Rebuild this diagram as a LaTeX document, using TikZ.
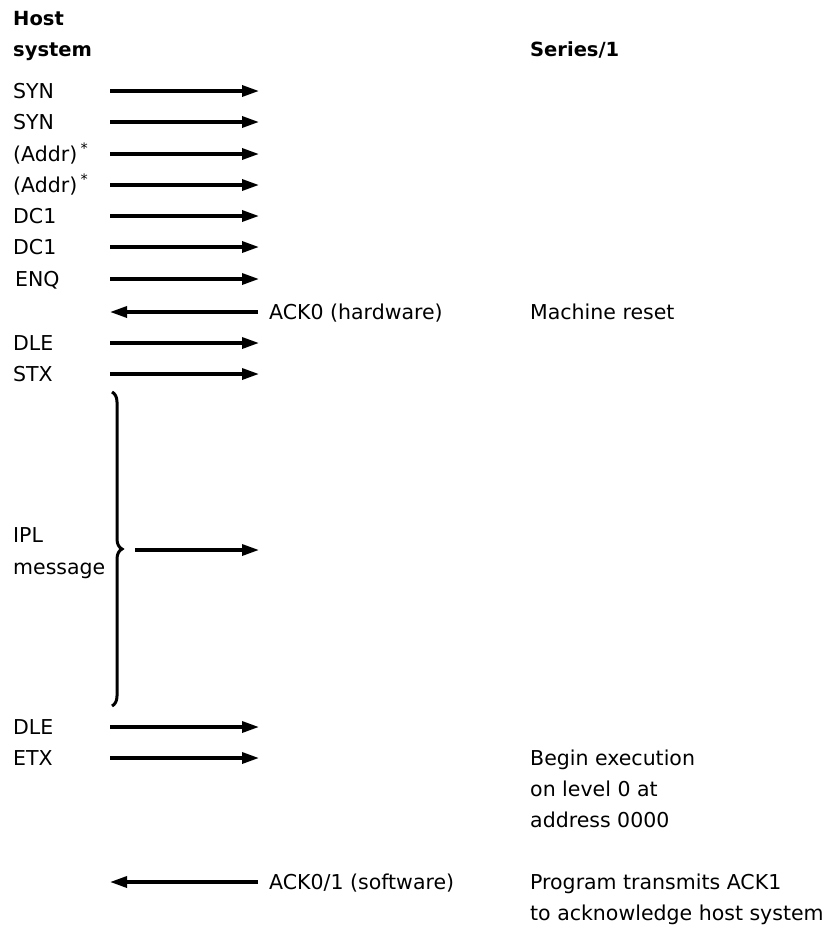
\documentclass[tikz,border=0pt]{standalone}
\usepackage{fontspec}
\setmainfont{DejaVu Sans}
\usepackage{tikz}
\usetikzlibrary{arrows.meta,decorations.pathreplacing}
\tikzset{row label/.style={anchor=base west,inner sep=0pt,yshift=-7.5pt,font=\fontsize{20.5}{31}\selectfont},head label/.style={anchor=base west,inner sep=0pt,font=\fontsize{19.5}{30}\selectfont\bfseries},link/.style={-{Triangle[length=17pt,width=11pt]},line width=3.3pt},ipl brace/.style={decorate,decoration={brace,amplitude=10pt},line width=3pt}}

\begin{document}
\begin{tikzpicture}[x=1pt,y=-1pt]
 \useasboundingbox (0,0) rectangle (832,932);
 \node[head label] (host) at (13,25) {Host};
 \node[head label] (hostsys) at (13,56) {system};
 \node[head label] (series) at (530,56) {Series/1};

 % host side, one name per row
 \node[row label] (syn1) at (13,91) {SYN};
 \node[row label] (syn2) at (13,122) {SYN};
 \node[row label] (addr1) at (13,154) {(Addr)\,\textsuperscript{*}};
 \node[row label] (addr2) at (13,185) {(Addr)\,\textsuperscript{*}};
 \node[row label] (dc1a) at (13,216) {DC1};
 \node[row label] (dc1b) at (13,247) {DC1};
 \node[row label] (enq) at (15,279) {ENQ};
 \node[row label] (dle1) at (13,343) {DLE};
 \node[row label] (stx) at (13,374) {STX};
 \node[row label] (ipl1) at (13,535) {IPL};
 \node[row label] (ipl2) at (13,567) {message};
 \node[row label] (dle2) at (13,727) {DLE};
 \node[row label] (etx) at (13,758) {ETX};

 \foreach \row/\y in {syn1/91,syn2/122,addr1/154,addr2/185,dc1a/216,dc1b/247,enq/279,dle1/343,stx/374,dle2/727,etx/758} {
  \coordinate (\row-a) at (110,\y);
  \coordinate (\row-b) at (259,\y);
  \draw[link] (\row-a)--(\row-b);}

 % IPL message block
 \coordinate (brace-top) at (112,392);
 \coordinate (brace-bot) at (112,706);
 \draw[ipl brace] (brace-top)--(brace-bot);
 \coordinate (ipl-a) at (135,550);
 \coordinate (ipl-b) at (259,550);
 \draw[link] (ipl-a)--(ipl-b);

 % answers from Series/1
 \foreach \row/\y in {ack0/312,ack01/882} {
  \coordinate (\row-a) at (258,\y);
  \coordinate (\row-b) at (110,\y);
  \draw[link] (\row-a)--(\row-b);}
 \node[row label] (ack0) at (269,312) {ACK0 (hardware)};
 \node[row label] (ack01) at (269,882) {ACK0/1 (software)};

 \node[row label] (reset) at (530,312) {Machine reset};
 \node[row label] (begin1) at (530,758) {Begin execution};
 \node[row label] (begin2) at (530,789) {on level 0 at};
 \node[row label] (begin3) at (530,820) {address 0000};
 \node[row label] (prog1) at (530,882) {Program transmits ACK1};
 \node[row label] (prog2) at (530,913) {to acknowledge host system};
\end{tikzpicture}
\end{document}
